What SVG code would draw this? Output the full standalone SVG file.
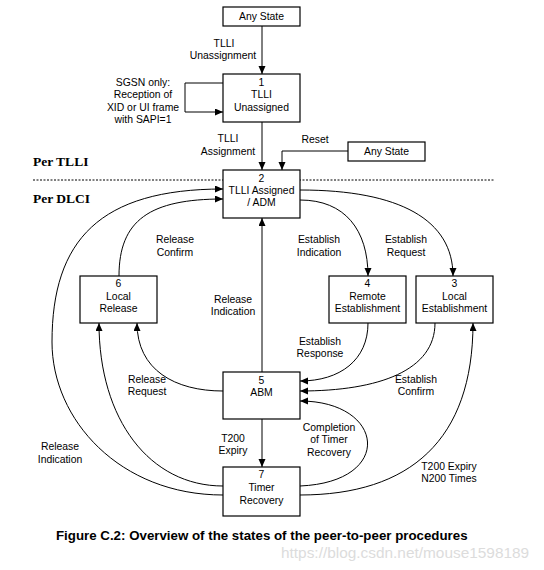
<svg xmlns="http://www.w3.org/2000/svg" width="544" height="570" viewBox="0 0 544 570">
<defs>
<marker id="ah" markerUnits="userSpaceOnUse" markerWidth="9" markerHeight="8" refX="8" refY="3.5" orient="auto">
<path d="M0,0 L8,3.5 L0,7 z" fill="#000"/>
</marker>
<style>
.box{fill:#fff;stroke:#000;stroke-width:1.2}
.t{font-family:"Liberation Sans",Arial,sans-serif;font-size:10.4px;fill:#000;text-anchor:middle}
.c{fill:none;stroke:#000;stroke-width:1}
.a{marker-end:url(#ah)}
.sec{font-family:"Liberation Serif","Times New Roman",serif;font-size:13.5px;font-weight:bold;fill:#000}
</style>
</defs>
<rect width="544" height="570" fill="#fff"/>
<line x1="33" y1="180" x2="495" y2="180" stroke="#000" stroke-width="1" stroke-dasharray="2,1.5"/>
<text class="sec" x="33" y="166">Per TLLI</text>
<text class="sec" x="33" y="203">Per DLCI</text>
<g id="connectors">
<path class="c a" d="M262,26 L262,74"/>
<path class="c a" d="M223,83 L185,83 L185,112 L223,112"/>
<path class="c a" d="M262,122 L262,170"/>
<path class="c a" d="M348,151 L282,151 L282,170"/>
<path class="c a" d="M262,372 L262,218"/>
<path class="c a" d="M262,419 L262,467"/>
<path class="c a" d="M223,495 C120,495 52,420 52,342 C52,240 100,189 223,189"/>
<path class="c a" d="M119,276 C119,220 150,199 223,199"/>
<path class="c a" d="M300,200 C345,200 368,230 368,276"/>
<path class="c a" d="M300,190 C400,190 453,220 453,276"/>
<path class="c a" d="M223,391 C175,391 137,370 137,323"/>
<path class="c a" d="M223,486 C150,486 99,420 99,323"/>
<path class="c a" d="M368,323 C368,360 340,381 300,381"/>
<path class="c a" d="M435,323 C435,370 380,391 300,391"/>
<path class="c a" d="M300,486 C395,482 385,401 300,401"/>
<path class="c a" d="M300,495 C410,495 473,440 473,323"/>
</g>
<g id="labels">
<text class="t" x="224" y="47">TLLI</text>
<text class="t" x="223" y="59">Unassignment</text>
<text class="t" x="143" y="86">SGSN only:</text>
<text class="t" x="143" y="98">Reception of</text>
<text class="t" x="143" y="111">XID or UI frame</text>
<text class="t" x="143" y="123">with SAPI=1</text>
<text class="t" x="228" y="142">TLLI</text>
<text class="t" x="228" y="155">Assignment</text>
<text class="t" x="315" y="143">Reset</text>
<text class="t" x="175" y="243">Release</text>
<text class="t" x="175" y="256">Confirm</text>
<text class="t" x="319" y="243">Establish</text>
<text class="t" x="319" y="256">Indication</text>
<text class="t" x="406" y="243">Establish</text>
<text class="t" x="406" y="256">Request</text>
<text class="t" x="233" y="303">Release</text>
<text class="t" x="233" y="315">Indication</text>
<text class="t" x="320" y="345">Establish</text>
<text class="t" x="320" y="357">Response</text>
<text class="t" x="147" y="383">Release</text>
<text class="t" x="147" y="395">Request</text>
<text class="t" x="416" y="383">Establish</text>
<text class="t" x="416" y="395">Confirm</text>
<text class="t" x="233" y="442">T200</text>
<text class="t" x="233" y="454">Expiry</text>
<text class="t" x="329" y="431">Completion</text>
<text class="t" x="329" y="443">of Timer</text>
<text class="t" x="329" y="456">Recovery</text>
<text class="t" x="60" y="450">Release</text>
<text class="t" x="60" y="463">Indication</text>
<text class="t" x="449" y="470">T200 Expiry</text>
<text class="t" x="449" y="482">N200 Times</text>
</g>
<g id="anystate-top">
<rect class="box" x="223" y="7" width="77" height="19"/>
<text class="t" x="261.5" y="20">Any State</text>
</g>
<g id="anystate-right">
<rect class="box" x="348" y="142" width="77" height="19"/>
<text class="t" x="386.5" y="155">Any State</text>
</g>
<g id="node1">
<rect class="box" x="223" y="74" width="77" height="48"/>
<text class="t" x="261.5" y="86">1</text>
<text class="t" x="261.5" y="98">TLLI</text>
<text class="t" x="261.5" y="111">Unassigned</text>
</g>
<g id="node2">
<rect class="box" x="223" y="170" width="77" height="48"/>
<text class="t" x="261.5" y="182">2</text>
<text class="t" x="261.5" y="194">TLLI Assigned</text>
<text class="t" x="261.5" y="206">/ ADM</text>
</g>
<g id="node6">
<rect class="box" x="80" y="276" width="77" height="47"/>
<text class="t" x="118.5" y="287">6</text>
<text class="t" x="118.5" y="300">Local</text>
<text class="t" x="118.5" y="312">Release</text>
</g>
<g id="node4">
<rect class="box" x="329" y="276" width="77" height="47"/>
<text class="t" x="367.5" y="287">4</text>
<text class="t" x="367.5" y="300">Remote</text>
<text class="t" x="367.5" y="312">Establishment</text>
</g>
<g id="node3">
<rect class="box" x="416" y="276" width="77" height="47"/>
<text class="t" x="454.5" y="287">3</text>
<text class="t" x="454.5" y="300">Local</text>
<text class="t" x="454.5" y="312">Establishment</text>
</g>
<g id="node5">
<rect class="box" x="223" y="372" width="77" height="47"/>
<text class="t" x="261.5" y="384">5</text>
<text class="t" x="261.5" y="396">ABM</text>
</g>
<g id="node7">
<rect class="box" x="223" y="467" width="77" height="49"/>
<text class="t" x="261.5" y="478">7</text>
<text class="t" x="261.5" y="491">Timer</text>
<text class="t" x="261.5" y="504">Recovery</text>
</g>
<text x="56" y="540" style="font-family:'Liberation Sans',Arial,sans-serif;font-size:13.3px;font-weight:bold;fill:#000">Figure C.2: Overview of the states of the peer-to-peer procedures</text>
<text x="281" y="558" style="font-family:'Liberation Sans',Arial,sans-serif;font-size:15.4px;fill:#dcdcdc">https://blog.csdn.net/mouse1598189</text>
</svg>
